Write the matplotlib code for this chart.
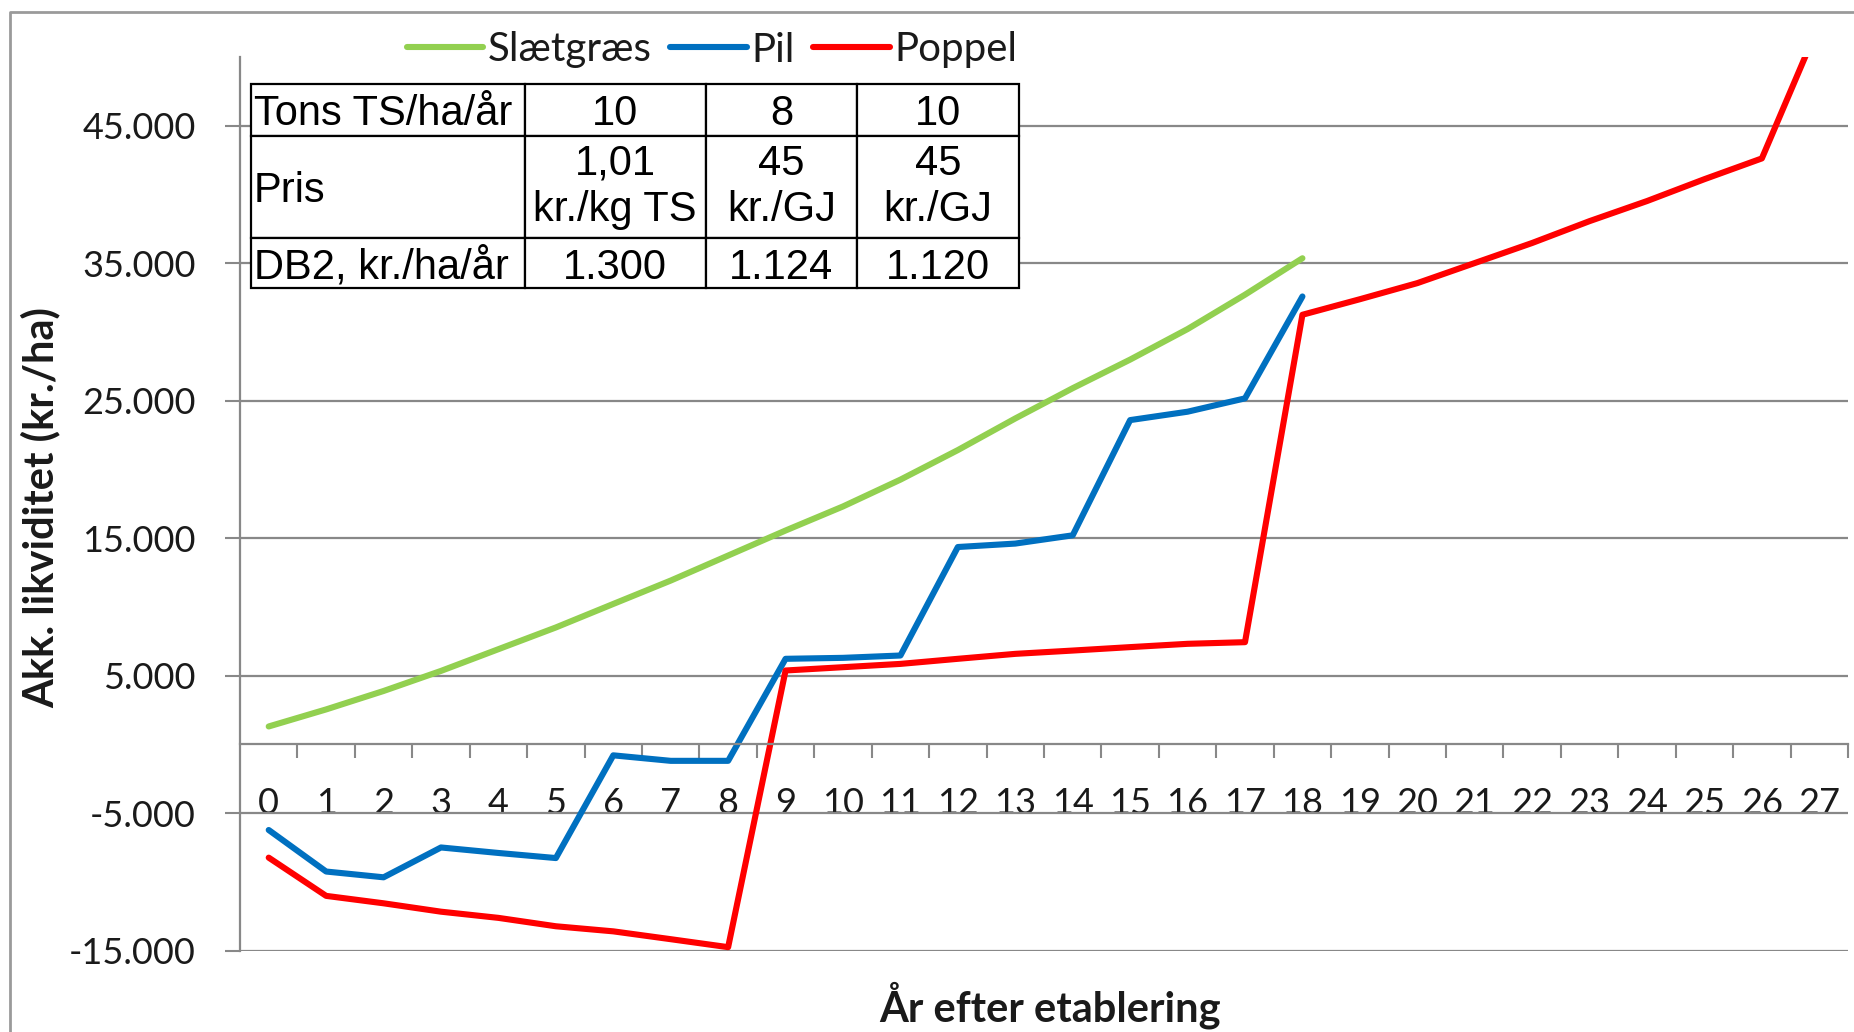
import matplotlib
matplotlib.use("Agg")
import matplotlib.pyplot as plt
from matplotlib import font_manager
from matplotlib.ticker import FixedLocator, FuncFormatter

# accumulated liquidity (kr./ha) per year after establishment
years = list(range(28))
slaetgraes = [1300, 2540, 3880, 5340, 6920, 8500, 10210, 11910, 13730, 15550,
              17300, 19250, 21400, 23700, 25900, 27980, 30200, 32700, 35350]
pil = [-6230, -9250, -9670, -7500, -7900, -8270, -800, -1200, -1200, 6220,
       6290, 6460, 14350, 14600, 15200, 23580, 24190, 25160, 32570]
poppel = [-8240, -11020, -11560, -12170, -12620, -13230, -13600, -14170, -14750, 5370,
          5610, 5850, 6220, 6580, 6820, 7070, 7310, 7430, 31240, 32370,
          33540, 35000, 36460, 38050, 39510, 41100, 42610, 52400]

series_names = ["Slætgræs", "Pil", "Poppel"]
series_colors = ["#92D050", "#0070C0", "#FF0000"]

# inset table
row_labels = ["Tons TS/ha/år", "Pris", "DB2, kr./ha/år"]
col_slaetgraes = ["10", "1,01\nkr./kg TS", "1.300"]
col_pil = ["8", "45\nkr./GJ", "1.124"]
col_poppel = ["10", "45\nkr./GJ", "1.120"]

plt.rcParams["font.family"] = ["Lato", "DejaVu Sans"]
GRAY = "#888888"
TXT = "#1a1a1a"

W, H = 1854, 1032
fig = plt.figure(figsize=(W / 100, H / 100), dpi=100)
ax = fig.add_axes([240 / W, 1 - 950.6 / H, 1608 / W, 893.8 / H])

lines = []
for vals, name, col in zip([slaetgraes, pil, poppel], series_names, series_colors):
    (ln,) = ax.plot(years[:len(vals)], vals, color=col, lw=4.4, label=name,
                    solid_joinstyle="round", solid_capstyle="round")
    lines.append(ln)

ax.set_xlim(-0.5, 27.5)
ax.set_ylim(-15000, 50000)

ax.xaxis.set_major_locator(FixedLocator(years))
ax.set_xticklabels([str(y) for y in years])
ax.xaxis.set_minor_locator(FixedLocator([y + 0.5 for y in years]))
ax.tick_params(axis="x", which="major", length=0, pad=31, labelsize=26, labelcolor=TXT)
ax.tick_params(axis="x", which="minor", length=10, width=1.5, color=GRAY, direction="out")

ax.yaxis.set_major_locator(FixedLocator(range(-15000, 50000, 10000)))
ax.yaxis.set_major_formatter(FuncFormatter(lambda v, p: f"{v:,.0f}".replace(",", ".")))
ax.tick_params(axis="y", length=11, width=1.5, color=GRAY, pad=21, labelsize=26, labelcolor=TXT)

ax.grid(axis="y", color=GRAY, lw=1.6)
for s in ["top", "right"]:
    ax.spines[s].set_visible(False)
ax.spines["bottom"].set_position(("data", 0))
for s in ["left", "bottom"]:
    ax.spines[s].set_color(GRAY)
    ax.spines[s].set_linewidth(1.6)

# table with the assumptions
cell_text = [[row_labels[i], col_slaetgraes[i], col_pil[i], col_poppel[i]] for i in range(3)]
tab = ax.table(cellText=cell_text, bbox=[0.007, 0.7413, 0.4776, 0.2283], zorder=5)
tab.auto_set_font_size(False)
col_w = [273, 181, 151, 162]
row_h = [52, 102, 50]
tab_font = font_manager.FontProperties(family="Liberation Sans", size=30)
for (r, c), cell in tab.get_celld().items():
    cell.set_width(col_w[c])
    cell.set_height(row_h[r])
    cell.set_linewidth(1.6)
    cell.set_edgecolor("black")
    t = cell.get_text()
    t.set_fontproperties(tab_font)
    t.set_linespacing(1.22)
    if "\n" not in t.get_text():
        t.set_va("center_baseline")
    if c == 0:
        cell.PAD = 0.01
        t.set_ha("left")
        cell._loc = "left"
    else:
        t.set_ha("center")
        cell._loc = "center"

fig.legend(handles=lines, labels=series_names, loc="center",
           bbox_to_anchor=(712 / W, 1 - 50 / H), ncol=3, frameon=False,
           fontsize=29, handlelength=1.9, handletextpad=0.12, columnspacing=0.45,
           labelcolor=TXT)

fig.text(41 / W, 1 - 508 / H, "Akk. likviditet (kr./ha)", rotation=90,
         ha="center", va="center", fontsize=30, fontweight="bold", color=TXT)
fig.text(1050 / W, 1 - 1005 / H, "År efter etablering",
         ha="center", va="center", fontsize=30, fontweight="bold", color=TXT)

# outer chart frame (left and top edges visible)
fig.add_artist(plt.Line2D([9.5 / W, 9.5 / W, 1.0], [0.0, 1 - 12 / H, 1 - 12 / H],
                          transform=fig.transFigure, color="#9a9a9a", lw=2))

fig.savefig("out.png", dpi=100)
